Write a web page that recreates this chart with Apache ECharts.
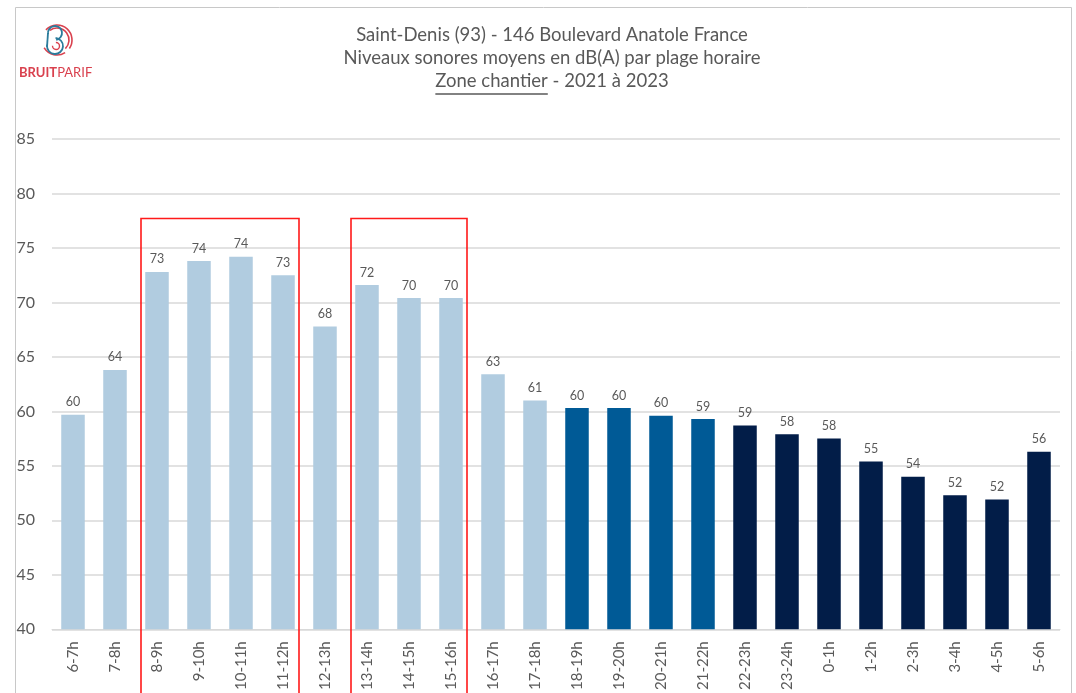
<!DOCTYPE html>
<html>
<head>
<meta charset="utf-8">
<script src="https://cdn.jsdelivr.net/npm/echarts@6/dist/echarts.min.js"></script>
<style>
  html, body { margin: 0; padding: 0; background: #fff; }
  #chart { width: 1076px; height: 693px; }
</style>
</head>
<body>
<div id="chart"></div>
<script>
// plages horaires
const hours = ['6-7h', '7-8h', '8-9h', '9-10h', '10-11h', '11-12h', '12-13h', '13-14h', '14-15h', '15-16h',
  '16-17h', '17-18h', '18-19h', '19-20h', '20-21h', '21-22h', '22-23h', '23-24h', '0-1h', '1-2h',
  '2-3h', '3-4h', '4-5h', '5-6h'];
// niveaux moyens dB(A)
const levels = [59.7, 63.8, 72.8, 73.8, 74.2, 72.5, 67.8, 71.6, 70.4, 70.4,
  63.4, 61.0, 60.3, 60.3, 59.6, 59.3, 58.7, 57.9, 57.5, 55.4,
  54.0, 52.3, 51.9, 56.3];
// period of each hour: 0 = jour, 1 = soirée, 2 = nuit
const periods = [0, 0, 0, 0, 0, 0, 0, 0, 0, 0, 0, 0, 1, 1, 1, 1, 2, 2, 2, 2, 2, 2, 2, 2];
const periodColors = ['#b1cce0', '#005a96', '#021d48'];
// zones chantier encadrées (first, last hour index)
const zones = [[2, 5], [7, 9]];
const zoneTop = 77.7;
const yTicks = { min: 40, max: 85, interval: 5 };

const font = 'Lato';
const grey = '#595959';
const red = '#d9414e';
const teal = '#2b7c9c';
const titleSize = 18.5;

const chart = echarts.init(document.getElementById('chart'));

function arc(cx, cy, r, a0, a1, color, w) {
  return { type: 'arc', shape: { cx: cx, cy: cy, r: r, startAngle: a0, endAngle: a1 }, style: { stroke: color, lineWidth: w, fill: null } };
}

const logo = [
  arc(57, 40, 15, -2.4, 0.6, red, 1.6),
  arc(57, 40, 12, -2.2, 0.8, red, 1.6),
  arc(57, 40, 15, 1.0, 2.6, red, 1.6),
  arc(55, 33, 7, -3.3, 1.4, teal, 1.8),
  arc(55, 46, 8, -1.5, 3.3, teal, 1.8),
  { type: 'line', shape: { x1: 48, y1: 33, x2: 47, y2: 47 }, style: { stroke: teal, lineWidth: 1.8 } },
  arc(56, 46, 3.5, -1.6, 3.2, red, 1.4),
  {
    type: 'text', x: 19, y: 66,
    style: {
      text: '{b|BRUIT}{n|PARIF}',
      rich: {
        b: { fontFamily: font, fontSize: 13, fontWeight: 'bold', fill: red },
        n: { fontFamily: font, fontSize: 13, fill: red }
      }
    }
  }
];

// underline under "Zone chantier"
const ctx = document.createElement('canvas').getContext('2d');
ctx.font = titleSize + 'px ' + font;
const line3 = 'Zone chantier - 2021 à 2023';
const w3 = ctx.measureText(line3).width;
const wZone = ctx.measureText('Zone chantier').width;
const cx = 552;

const titleLines = [
  { type: 'text', x: cx, y: 26, style: { text: 'Saint-Denis (93) - 146 Boulevard Anatole France', fontFamily: font, fontSize: titleSize, fill: grey, align: 'center' } },
  { type: 'text', x: cx, y: 49, style: { text: 'Niveaux sonores moyens en dB(A) par plage horaire', fontFamily: font, fontSize: titleSize, fill: grey, align: 'center' } },
  { type: 'text', x: cx, y: 72, style: { text: line3, fontFamily: font, fontSize: titleSize, fill: grey, align: 'center' } },
  { type: 'line', shape: { x1: cx - w3 / 2, y1: 94, x2: cx - w3 / 2 + wZone, y2: 94 }, style: { stroke: grey, lineWidth: 1.5 } }
];

const frame = {
  type: 'rect', z: -1,
  shape: { x: 15.5, y: 7.5, width: 1056, height: 700 },
  style: { fill: null, stroke: '#c8c8c8', lineWidth: 1 }
};

const option = {
  animation: false,
  textStyle: { fontFamily: font },
  grid: { left: 52, right: 16, top: 139, bottom: 61 },
  xAxis: {
    type: 'category',
    data: hours,
    axisLine: { lineStyle: { color: '#d9d9d9' } },
    axisTick: { show: false },
    axisLabel: { rotate: 90, fontSize: 15, color: grey, margin: 12, interval: 0 }
  },
  yAxis: {
    type: 'value',
    min: yTicks.min, max: yTicks.max, interval: yTicks.interval,
    axisLine: { show: false },
    axisTick: { show: false },
    axisLabel: { fontSize: 16, color: grey, margin: 17 },
    splitLine: { lineStyle: { color: '#d9d9d9', width: 1.5 } }
  },
  series: [{
    type: 'bar',
    data: levels.map((v, i) => ({ value: v, itemStyle: { color: periodColors[periods[i]] } })),
    barWidth: '56%',
    label: {
      show: true, position: 'top', distance: 6,
      fontSize: 12.5, color: grey,
      formatter: p => Math.round(p.value)
    }
  }],
  graphic: [frame].concat(logo, titleLines)
};

chart.setOption(option);

// red frames around the construction hours, placed through the axes
const boxes = zones.map(([a, b]) => {
  const x1 = chart.convertToPixel({ xAxisIndex: 0 }, a) - 16;
  const x2 = chart.convertToPixel({ xAxisIndex: 0 }, b) + 16;
  const y1 = chart.convertToPixel({ yAxisIndex: 0 }, zoneTop);
  return {
    type: 'rect', z: 10,
    shape: { x: x1, y: y1, width: x2 - x1, height: 693 - y1 + 10 },
    style: { fill: null, stroke: '#ff1a1a', lineWidth: 1.6 }
  };
});
chart.setOption({ graphic: [frame].concat(logo, titleLines, boxes) });
</script>
</body>
</html>
